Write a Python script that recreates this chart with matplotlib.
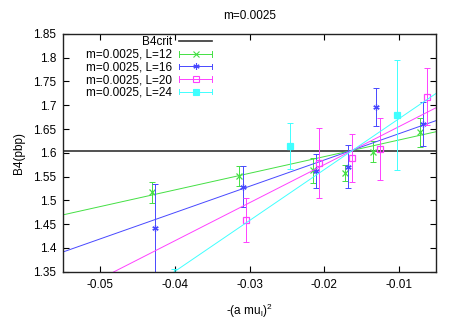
import matplotlib
matplotlib.use("Agg")
import matplotlib.pyplot as plt
import numpy as np
from matplotlib.lines import Line2D
from matplotlib.legend_handler import HandlerBase

plt.rcParams['font.family'] = ['Liberation Sans', 'DejaVu Sans']
plt.rcParams['font.size'] = 8.5

# data
b4crit = 1.604
labels = ["m=0.0025, L=12", "m=0.0025, L=16", "m=0.0025, L=20", "m=0.0025, L=24"]
colors = ["#44e044", "#4848ff", "#ff40ff", "#40ffff"]
markers = ["x", (6, 2, 0), "s", "s"]
fills = ["full", "full", "none", "full"]

x12 = [-0.0431, -0.0315, -0.0215, -0.0173, -0.01356, -0.00724]
y12 = [1.5166, 1.5502, 1.563, 1.5573, 1.6027, 1.6427]
e12 = [0.022, 0.021, 0.027, 0.017, 0.022, 0.030]

x16 = [-0.04267, -0.03093, -0.02111, -0.0168, -0.01303, -0.00676]
y16 = [1.4418, 1.529, 1.562, 1.5706, 1.6973, 1.661]
e16 = [0.092, 0.0435, 0.0357, 0.0455, 0.040, 0.046]

x20 = [-0.0305, -0.02067, -0.01636, -0.01253, -0.00622]
y20 = [1.4586, 1.5784, 1.5889, 1.6077, 1.7183]
e20 = [0.046, 0.073, 0.050, 0.065, 0.0605]

x24 = [-0.0401, -0.02457, -0.01031]
y24 = [1.335, 1.6147, 1.6798]
e24 = [0.02, 0.048, 0.115]

# linear fits: intercept at x=0 and slope
fit_a = [1.662, 1.6956, 1.7352, 1.7789]
fit_b = [3.5, 5.53, 8.0, 10.7]

xs = [x12, x16, x20, x24]
ys = [y12, y16, y20, y24]
es = [e12, e16, e20, e24]


class HandlerGp(HandlerBase):
    # gnuplot style key sample: horizontal line with caps and point in middle
    def create_artists(self, legend, orig, xd, yd, w, h, fs, trans):
        c = orig.get_color()
        y = yd + h / 2
        ln = Line2D([xd, xd + w], [y, y], color=c, lw=0.7, transform=trans)
        c1 = Line2D([xd, xd], [y - 2, y + 2], color=c, lw=0.7, transform=trans)
        c2 = Line2D([xd + w, xd + w], [y - 2, y + 2], color=c, lw=0.7, transform=trans)
        mk = Line2D([xd + w / 2], [y], color=c, marker=orig.get_marker(),
                    ms=orig.get_markersize(), fillstyle=orig.get_fillstyle(),
                    mew=0.8, ls='none', transform=trans)
        return [ln, c1, c2, mk]


fig = plt.figure(figsize=(4.57, 3.2), dpi=100)
ax = fig.add_axes([0.138, 0.151, 0.817, 0.743])

xmin, xmax = -0.055, -0.005
ax.set_xlim(xmin, xmax)
ax.set_ylim(1.35, 1.85)

crit = ax.axhline(b4crit, color='#333333', lw=1.2, label="B4crit")
handles = [crit]

xf = np.linspace(xmin, xmax, 50)
for i in range(4):
    ax.plot(xf, fit_a[i] + fit_b[i] * xf, color=colors[i], lw=0.7)
    ax.errorbar(xs[i], ys[i], yerr=es[i], fmt='none', ecolor=colors[i],
                elinewidth=0.7, capsize=2, capthick=0.7)
    ax.plot(xs[i], ys[i], ls='none', marker=markers[i], color=colors[i],
            ms=4.5, mew=0.9, fillstyle=fills[i])
    handles.append(Line2D([], [], color=colors[i], marker=markers[i],
                          ms=4.5, fillstyle=fills[i], label=labels[i]))

hmap = {h: HandlerGp() for h in handles[1:]}
leg = ax.legend(handles=handles, handler_map=hmap, loc='upper right',
                bbox_to_anchor=(0.4, 0.99), frameon=False, markerfirst=False,
                handlelength=2.8, labelspacing=0.05, borderpad=0,
                borderaxespad=0, handletextpad=0.6, fontsize=8.5)

ax.set_xticks([-0.05, -0.04, -0.03, -0.02, -0.01])
ax.set_xticklabels(["-0.05", "-0.04", "-0.03", "-0.02", "-0.01"])
ax.set_yticks([1.35, 1.4, 1.45, 1.5, 1.55, 1.6, 1.65, 1.7, 1.75, 1.8, 1.85])
ax.set_yticklabels(["1.35", "1.4", "1.45", "1.5", "1.55", "1.6", "1.65",
                    "1.7", "1.75", "1.8", "1.85"])
ax.tick_params(direction='in', length=4, width=0.8, top=True, right=True,
               labelsize=8.5, pad=5)
for s in ax.spines.values():
    s.set_linewidth(1.0)
    s.set_color('#222222')

ax.set_title("m=0.0025", fontsize=8.5, pad=11)
ax.set_xlabel("-(a mu$_\\mathregular{l}$)$^\\mathregular{2}$", labelpad=8)
ax.set_ylabel("B4(pbp)", labelpad=6)

fig.savefig("out.png", dpi=100)
